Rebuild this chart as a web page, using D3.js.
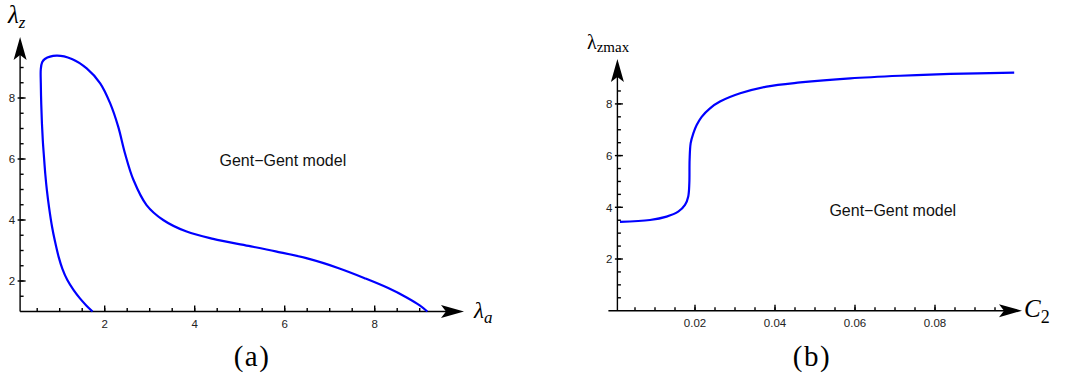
<html>
<head>
<meta http-equiv="Content-Type" content="text/html; charset=UTF-8">
<title>Gent-Gent model</title>
<style>
	body { margin: 0; background: #fff; }
	.tick_label { font-family: "Liberation Sans", Arial, sans-serif; font-size: 11.5px; fill: #222; }
	.serif { font-family: "Liberation Serif", "Times New Roman", serif; fill: #000; }
	.note { font-family: "Liberation Sans", Arial, sans-serif; font-size: 16px; fill: #111; }
	.axis_line { stroke: #000; stroke-width: 1.4; fill: none; }
	.curve { stroke: #0000ff; stroke-width: 2.2; fill: none; stroke-linejoin: round; }
</style>
</head>
<body>
<div id="chart"></div>
<script src="https://cdnjs.cloudflare.com/ajax/libs/d3/7.8.5/d3.min.js"></script>
<script>

	// panel (a): lambda_a (x) against lambda_z (y), one traced loop
	var lamA = [1.73, 1.59, 1.45, 1.31, 1.17, 1.06, 0.975, 0.895, 0.83, 0.765, 0.715, 0.68, 0.65, 0.625, 0.605,
		0.59, 0.58, 0.58, 0.61, 0.67, 0.93, 1.27, 1.60, 1.90,
		2.12, 2.30, 2.45, 2.64, 2.93, 3.30, 3.82, 4.41, 5.20, 5.80, 6.50, 7.20, 7.80, 8.30, 8.70, 9.00, 9.17];
	var lamZ = [1.00, 1.20, 1.43, 1.70, 2.03, 2.40, 2.80, 3.30, 3.78, 4.40, 4.98, 5.50, 6.08, 6.60, 7.17,
		7.80, 8.50, 8.95, 9.17, 9.28, 9.39, 9.28, 8.97, 8.48,
		7.83, 7.06, 6.19, 5.31, 4.49, 4.00, 3.62, 3.38, 3.15, 2.97, 2.74, 2.42, 2.08, 1.77, 1.47, 1.20, 1.00];

	// panel (b): C2 (x) against lambda_zmax (y)
	var c2 = [0.00125, 0.00875, 0.0129, 0.0158, 0.0175, 0.0183, 0.01858, 0.01865, 0.01892, 0.01958, 0.02042, 0.02167,
		0.02375, 0.02625, 0.0313, 0.0379, 0.0463, 0.0588, 0.0713, 0.0838, 0.0998];
	var lamZmax = [3.44, 3.51, 3.64, 3.83, 4.09, 4.41, 4.93, 5.83, 6.48, 6.86, 7.18, 7.50,
		7.83, 8.09, 8.41, 8.67, 8.83, 8.99, 9.09, 9.16, 9.21];

	// tick labels
	var ticksAx = [2, 4, 6, 8];
	var ticksAy = [2, 4, 6, 8];
	var ticksBx = [0.02, 0.04, 0.06, 0.08];
	var ticksBy = [2, 4, 6, 8];

	var width = 1065, height = 381;

	var svg = d3.select("#chart").append("svg")
		.attr("width", width)
		.attr("height", height);

	var xA = d3.scaleLinear().domain([0, 10]).range([14.7, 464.7]);
	var yA = d3.scaleLinear().domain([0, 10]).range([342, 37]);
	var xB = d3.scaleLinear().domain([0, 0.1]).range([615, 1015]);
	var yB = d3.scaleLinear().domain([0, 10]).range([310.7, 52.2]);

	function arrowH(tx, ty) {
		return "M" + tx + "," + ty + "L" + (tx - 23) + "," + (ty - 6.5) + "L" + (tx - 18) + "," + ty +
			"L" + (tx - 23) + "," + (ty + 6.5) + "Z";
	}
	function arrowV(tx, ty) {
		return "M" + tx + "," + ty + "L" + (tx - 6.5) + "," + (ty + 23) + "L" + tx + "," + (ty + 18) +
			"L" + (tx + 6.5) + "," + (ty + 23) + "Z";
	}

	function drawAxes(x, y, o) {
		var g = svg.append("g");
		var ox = x(o.x0), oy = y(o.y0);

		// axis lines with arrows
		g.append("line").attr("class", "axis_line")
			.attr("x1", ox - o.xOver).attr("y1", oy).attr("x2", o.xTip - 10).attr("y2", oy);
		g.append("line").attr("class", "axis_line")
			.attr("x1", ox).attr("y1", oy).attr("x2", ox).attr("y2", o.yTip + 10);
		g.append("path").attr("d", arrowH(o.xTip, oy)).attr("fill", "#000");
		g.append("path").attr("d", arrowV(ox, o.yTip)).attr("fill", "#000");

		// minor ticks
		g.selectAll(".xminor").data(o.xMinor).enter().append("line")
			.attr("class", "axis_line").attr("stroke-width", 1.1)
			.attr("x1", function(d) { return x(d); }).attr("x2", function(d) { return x(d); })
			.attr("y1", oy).attr("y2", oy - 3.5);
		g.selectAll(".yminor").data(o.yMinor).enter().append("line")
			.attr("class", "axis_line").attr("stroke-width", 1.1)
			.attr("y1", function(d) { return y(d); }).attr("y2", function(d) { return y(d); })
			.attr("x1", ox).attr("x2", ox + 3.5);

		// major ticks + labels
		g.selectAll(".xmajor").data(o.xMajor).enter().append("line")
			.attr("class", "axis_line").attr("stroke-width", 1.2)
			.attr("x1", function(d) { return x(d); }).attr("x2", function(d) { return x(d); })
			.attr("y1", oy).attr("y2", oy - 6);
		g.selectAll(".ymajor").data(o.yMajor).enter().append("line")
			.attr("class", "axis_line").attr("stroke-width", 1.2)
			.attr("y1", function(d) { return y(d); }).attr("y2", function(d) { return y(d); })
			.attr("x1", ox - 2.5).attr("x2", ox + 5.5);

		g.selectAll(".xlab").data(o.xMajor).enter().append("text")
			.attr("class", "tick_label")
			.attr("x", function(d) { return x(d); })
			.attr("y", oy + 16.5)
			.attr("text-anchor", "middle")
			.text(o.fmtX);
		g.selectAll(".ylab").data(o.yMajor).enter().append("text")
			.attr("class", "tick_label")
			.attr("x", ox - 5)
			.attr("y", function(d) { return y(d) + 4.2; })
			.attr("text-anchor", "end")
			.text(function(d) { return d; });
	}

	drawAxes(xA, yA, {
		x0: 0.12, y0: 1, xOver: 0, xTip: 464, yTip: 37,
		xMajor: ticksAx, yMajor: ticksAy,
		xMinor: d3.range(0.5, 9.01, 0.5), yMinor: d3.range(1.5, 9.01, 0.5),
		fmtX: function(d) { return d; }
	});
	drawAxes(xB, yB, {
		x0: 0.0006, y0: 0, xOver: 9, xTip: 1022, yTip: 59,
		xMajor: ticksBx, yMajor: ticksBy,
		xMinor: d3.range(0.005, 0.0951, 0.005), yMinor: d3.range(0.5, 8.51, 0.5),
		fmtX: function(d) { return d3.format(".2f")(d); }
	});

	// curves
	var lineA = d3.line()
		.x(function(d) { return xA(d[0]); })
		.y(function(d) { return yA(d[1]); })
		.curve(d3.curveCatmullRom.alpha(0.5));
	svg.append("path").attr("class", "curve")
		.datum(d3.zip(lamA, lamZ))
		.attr("d", lineA);

	var lineB = d3.line()
		.x(function(d) { return xB(d[0]); })
		.y(function(d) { return yB(d[1]); })
		.curve(d3.curveCatmullRom.alpha(0.5));
	svg.append("path").attr("class", "curve")
		.datum(d3.zip(c2, lamZmax))
		.attr("d", lineB);

	// annotations
	svg.append("text").attr("class", "note")
		.attr("x", xA(4.55)).attr("y", yA(5.78))
		.text("Gent\u2212Gent model");
	svg.append("text").attr("class", "note")
		.attr("x", xB(0.0536)).attr("y", yB(3.67))
		.text("Gent\u2212Gent model");

	// axis titles
	var t = svg.append("text").attr("class", "serif").attr("x", 8).attr("y", 22.5);
	t.append("tspan").attr("font-style", "italic").attr("font-size", 25).text("\u03bb");
	t.append("tspan").attr("font-style", "italic").attr("font-size", 17).attr("dy", 5.5).text("z");

	t = svg.append("text").attr("class", "serif").attr("x", 474).attr("y", 318);
	t.append("tspan").attr("font-style", "italic").attr("font-size", 23).text("\u03bb");
	t.append("tspan").attr("font-style", "italic").attr("font-size", 17).attr("dy", 5).text("a");

	t = svg.append("text").attr("class", "serif").attr("x", 587).attr("y", 49);
	t.append("tspan").attr("font-size", 20).text("\u03bb");
	t.append("tspan").attr("font-size", 15).attr("dy", 2.7).text("zmax");

	t = svg.append("text").attr("class", "serif").attr("x", 1024).attr("y", 317.3);
	t.append("tspan").attr("font-style", "italic").attr("font-size", 25).text("C");
	t.append("tspan").attr("font-size", 18).attr("dy", 5.5).text("2");

	// panel labels
	svg.append("text").attr("class", "serif").attr("font-size", 29)
		.attr("letter-spacing", 1.5)
		.attr("x", 252).attr("y", 366).attr("text-anchor", "middle").text("(a)");
	svg.append("text").attr("class", "serif").attr("font-size", 29)
		.attr("letter-spacing", 1.5)
		.attr("x", 812).attr("y", 366).attr("text-anchor", "middle").text("(b)");

</script>
</body>
</html>
